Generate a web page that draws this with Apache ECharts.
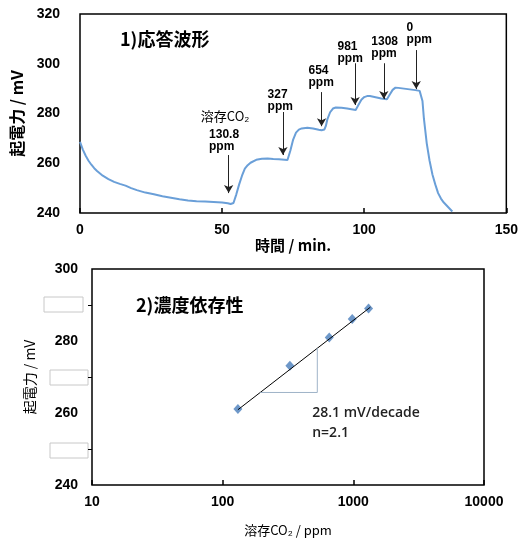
<!DOCTYPE html>
<html>
<head>
<meta charset="utf-8">
<script src="https://cdn.jsdelivr.net/npm/echarts@6/dist/echarts.min.js"></script>
<style>
  html, body { margin: 0; padding: 0; background: #fff; }
  #main { width: 521px; height: 541px; }
</style>
</head>
<body>
<div id="main"></div>
<script>
// 1) 応答波形 : time (min) vs EMF (mV)
let timeMin = [0, 1, 2, 3, 4, 5, 6, 8, 10, 12, 14, 16, 18, 20, 23, 26, 29, 32, 35, 38, 41, 44, 47, 50, 52, 53, 53.5,
    54, 55, 56, 57, 58, 59, 60, 62, 64, 66, 68, 70, 72, 73, 73.5, 74, 75, 76, 77, 78, 80, 82, 84, 85, 86, 86.5,
    87, 88, 89, 90, 92, 94, 96, 97, 97.5, 98, 99, 100, 101, 102, 104, 106, 108, 108.5, 109, 110, 111, 112, 114,
    116, 118, 119.5, 120, 120.5, 121, 122, 123, 124, 125, 126, 127, 128, 129, 130, 131];
let emf = [268.6, 265.5, 263.0, 261.0, 259.4, 258.0, 256.9, 255.0, 253.6, 252.5, 251.7, 251.0, 250.0, 249.2, 248.2,
    247.5, 246.7, 246.1, 245.5, 245.0, 244.7, 244.6, 244.4, 244.2, 243.9, 243.6, 243.4,
    244.0, 247.5, 251.5, 255.0, 257.8, 259.2, 260.2, 261.4, 261.8, 261.9, 261.7, 261.6, 261.4, 261.3, 262.0,
    265.0, 269.5, 272.3, 273.5, 274.0, 274.3, 274.0, 273.5, 273.3, 273.6, 275.0,
    277.5, 280.5, 282.0, 282.4, 282.3, 282.0, 281.6, 281.4, 282.0, 283.5, 285.5, 286.6, 287.0, 287.0, 286.5,
    286.0, 285.7, 286.3, 287.6, 289.5, 290.4, 290.3, 290.0, 289.7, 289.4, 289.1, 288.6, 285.0, 278.0, 268.0,
    261.0, 255.5, 251.5, 248.0, 245.8, 244.2, 243.0, 241.8, 240.6];

// arrows (time, top mV, bottom mV) and their labels
let arrowT = [52.3, 71.4, 85.0, 96.8, 106.9, 118.3];
let arrowTop = [263.3, 280.6, 288.6, 300.2, 300.2, 305.5];
let arrowBottom = [248.0, 263.3, 274.9, 283.4, 285.8, 289.8];
let noteText = ["130.8\nppm", "327\nppm", "654\nppm", "981\nppm", "1308\nppm", "0\nppm"];
let noteT = [45.4, 66.0, 80.4, 90.6, 102.5, 114.9];
let noteV = [273.7, 289.8, 299.8, 309.1, 311.2, 316.8];

// 2) 濃度依存性 : dissolved CO2 (ppm) vs EMF (mV)
let concPpm = [130.8, 327, 654, 981, 1308];
let concEmf = [261.1, 273.1, 281.0, 286.1, 289.0];
let fitLine = [[130.8, 260.9], [1350, 289.4]];
let slopeTri = [[194, 265.7], [530, 265.7], [530, 278.0]];
let minorY = [250, 270, 290];

let fontEn = "'Liberation Sans','Noto Sans CJK JP',sans-serif";
let fontJp = "'Noto Sans CJK JP','Liberation Sans',sans-serif";

let chart = echarts.init(document.getElementById("main"));
let option = {
    animation: false,
    backgroundColor: "#fff",
    title: [
        {
            text: "1)応答波形", left: 115, top: 25,
            textStyle: {fontFamily: fontJp, fontSize: 18, fontWeight: "bold", color: "#000"}
        },
        {
            text: "2)濃度依存性", left: 131, top: 291,
            textStyle: {fontFamily: fontJp, fontSize: 18, fontWeight: "bold", color: "#000"}
        }
    ],
    grid: [
        {left: 80, top: 14, width: 427, height: 199, show: true, borderColor: "#000", borderWidth: 1.5},
        {left: 92, top: 269, width: 392, height: 216, show: true, borderColor: "#000", borderWidth: 1.5}
    ],
    xAxis: [
        {
            type: "value", gridIndex: 0, min: 0, max: 150, interval: 50,
            axisLine: {show: false},
            axisTick: {show: true, inside: true, length: 5, lineStyle: {color: "#000", width: 1.5}},
            splitLine: {show: false},
            axisLabel: {margin: 10, fontFamily: fontEn, fontSize: 14, fontWeight: "bold", color: "#000"},
            name: "時間 / min.", nameLocation: "middle", nameGap: 22,
            nameTextStyle: {fontFamily: fontJp, fontSize: 15, fontWeight: "bold", color: "#000"}
        },
        {
            type: "log", gridIndex: 1, min: 10, max: 10000, logBase: 10,
            axisLine: {show: false},
            axisTick: {show: true, inside: true, length: 5, lineStyle: {color: "#000", width: 1.5}},
            minorTick: {show: false},
            splitLine: {show: false},
            axisLabel: {margin: 10, fontFamily: fontEn, fontSize: 14, fontWeight: "bold", color: "#000",
                formatter: v => String(Math.round(v))},
            name: "溶存CO₂ / ppm", nameLocation: "middle", nameGap: 39,
            nameTextStyle: {fontFamily: fontJp, fontSize: 13, color: "#000"}
        }
    ],
    yAxis: [
        {
            type: "value", gridIndex: 0, min: 240, max: 320, interval: 20,
            axisLine: {show: false},
            axisTick: {show: false},
            splitLine: {show: false},
            axisLabel: {margin: 20, fontFamily: fontEn, fontSize: 14, fontWeight: "bold", color: "#000"},
            name: "起電力 / mV", nameLocation: "middle", nameGap: 55,
            nameTextStyle: {fontFamily: fontJp, fontSize: 16, fontWeight: "bold", color: "#000"}
        },
        {
            type: "value", gridIndex: 1, min: 240, max: 300, interval: 20,
            axisLine: {show: false},
            axisTick: {show: true, length: 4, customValues: minorY, lineStyle: {color: "#000", width: 1}},
            splitLine: {show: false},
            axisLabel: {margin: 14, fontFamily: fontEn, fontSize: 14, fontWeight: "bold", color: "#000"},
            name: "起電力 / mV", nameLocation: "middle", nameGap: 55,
            nameTextStyle: {fontFamily: fontJp, fontSize: 14, color: "#000"}
        }
    ],
    series: [
        {
            type: "line", xAxisIndex: 0, yAxisIndex: 0,
            data: timeMin.map((t, i) => [t, emf[i]]),
            showSymbol: false, silent: true,
            lineStyle: {color: "#6a9fd8", width: 2},
            markLine: {
                silent: true, symbol: ["none", "arrow"], symbolSize: [7, 8],
                label: {show: false},
                lineStyle: {color: "#222", width: 1, type: "solid"},
                data: arrowT.map((t, i) => [{coord: [t, arrowTop[i]]}, {coord: [t, arrowBottom[i]]}])
            }
        },
        {
            type: "line", xAxisIndex: 1, yAxisIndex: 1,
            data: fitLine, showSymbol: false, silent: true,
            lineStyle: {color: "#000", width: 1}
        },
        {
            type: "line", xAxisIndex: 1, yAxisIndex: 1,
            data: slopeTri, showSymbol: false, silent: true,
            lineStyle: {color: "#9fb3c8", width: 1}
        },
        {
            type: "scatter", xAxisIndex: 1, yAxisIndex: 1,
            data: concPpm.map((c, i) => [c, concEmf[i]]),
            symbol: "diamond", symbolSize: [9, 10], silent: true,
            itemStyle: {color: "#4a7ebb"}
        }
    ]
};
chart.setOption(option);

// annotation texts placed from data coordinates
let graphics = [];
let p0 = chart.convertToPixel({gridIndex: 0}, [42.5, 281.5]);
graphics.push({
    type: "text", x: p0[0], y: p0[1],
    style: {text: "溶存CO₂", fontFamily: fontJp, fontSize: 13, fill: "#000", align: "left", verticalAlign: "top"}
});
noteText.forEach((txt, i) => {
    let p = chart.convertToPixel({gridIndex: 0}, [noteT[i], noteV[i]]);
    graphics.push({
        type: "text", x: p[0], y: p[1],
        style: {text: txt, fontFamily: fontEn, fontSize: 12, fontWeight: "bold", lineHeight: 12,
            fill: "#000", align: "left", verticalAlign: "top"}
    });
});
let p1 = chart.convertToPixel({gridIndex: 1}, [520, 264]);
graphics.push({
    type: "text", x: p1[0] - 4, y: p1[1] + 4,
    style: {text: "28.1 mV/decade\nn=2.1", fontFamily: "'Open Sans',sans-serif", fontSize: 14, fontWeight: 600,
        lineHeight: 20, fill: "#222", align: "left", verticalAlign: "top"}
});
// blank boxes over the minor labels, as in the picture
[[44, 297, 39, 15], [50, 370, 38, 15], [50, 443, 38, 15]].forEach(b => {
    graphics.push({
        type: "rect", shape: {x: b[0], y: b[1], width: b[2], height: b[3]},
        style: {fill: "#fff", stroke: "#c8c8c8", lineWidth: 1}
    });
});
chart.setOption({graphic: graphics});
</script>
</body>
</html>
